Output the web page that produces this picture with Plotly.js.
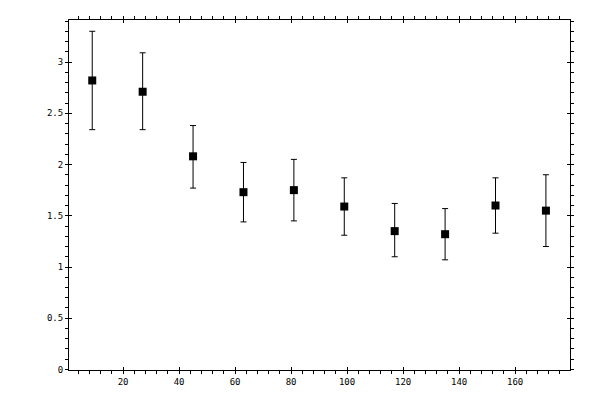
<!DOCTYPE html>
<html>
<head>
<meta charset="utf-8">
<script src="https://cdn.plot.ly/plotly-3.0.1.min.js"></script>
<style>
  html, body { margin: 0; padding: 0; background: #fff; }
  #chart { width: 600px; height: 400px; }
</style>
</head>
<body>
<div id="chart"></div>
<script>
// значения
var xVals = [9, 27, 45, 63, 81, 99, 117, 135, 153, 171];
var yVals = [2.82, 2.71, 2.08, 1.73, 1.75, 1.59, 1.35, 1.32, 1.60, 1.55];
var errUp = [0.48, 0.38, 0.30, 0.29, 0.30, 0.28, 0.27, 0.25, 0.27, 0.35];
var errDown = [0.48, 0.37, 0.31, 0.29, 0.30, 0.28, 0.25, 0.25, 0.27, 0.35];

var xRange = [0.7, 179.6];
var yRange = [-0.005, 3.41];

var tickFont = {family: 'DejaVu Sans Mono, monospace', size: 9, color: '#000'};

// точки с погрешностями
var pts = {
	x: xVals,
	y: yVals,
	type: 'scatter',
	mode: 'markers',
	marker: {symbol: 'square', size: 8, color: '#000'},
	error_y: {
		type: 'data',
		symmetric: false,
		array: errUp,
		arrayminus: errDown,
		color: '#000',
		thickness: 1,
		width: 3
	},
	hoverinfo: 'none'
};

// пустой трейс для второй пары осей (внутренние засечки)
var dummy = {x: [], y: [], xaxis: 'x2', yaxis: 'y2', type: 'scatter', mode: 'markers', hoverinfo: 'none'};

var layout = {
	width: 600,
	height: 400,
	margin: {l: 69, r: 30, t: 20, b: 30},
	paper_bgcolor: '#fff',
	plot_bgcolor: '#fff',
	showlegend: false,
	xaxis: {
		range: xRange,
		showgrid: false,
		zeroline: false,
		showline: true,
		linecolor: '#000',
		linewidth: 1,
		mirror: 'allticks',
		ticks: 'outside',
		ticklen: 3,
		tickwidth: 1,
		tickcolor: '#000',
		dtick: 20,
		tick0: 0,
		tickfont: tickFont,
		minor: {dtick: 4, tick0: 0, ticks: 'outside', ticklen: 3, tickwidth: 1, tickcolor: '#000', showgrid: false}
	},
	yaxis: {
		range: yRange,
		showgrid: false,
		zeroline: false,
		showline: true,
		linecolor: '#000',
		linewidth: 1,
		mirror: 'allticks',
		ticks: 'outside',
		ticklen: 3,
		tickwidth: 1,
		tickcolor: '#000',
		dtick: 0.5,
		tick0: 0,
		tickfont: tickFont,
		minor: {dtick: 0.1, tick0: 0, ticks: 'outside', ticklen: 3, tickwidth: 1, tickcolor: '#000', showgrid: false}
	},
	xaxis2: {
		range: xRange,
		overlaying: 'x',
		anchor: 'y2',
		showgrid: false,
		zeroline: false,
		showline: false,
		mirror: 'ticks',
		ticks: 'inside',
		ticklen: 3,
		tickwidth: 1,
		tickcolor: '#000',
		dtick: 20,
		tick0: 0,
		showticklabels: false
	},
	yaxis2: {
		range: yRange,
		overlaying: 'y',
		anchor: 'x2',
		showgrid: false,
		zeroline: false,
		showline: false,
		mirror: 'ticks',
		ticks: 'inside',
		ticklen: 3,
		tickwidth: 1,
		tickcolor: '#000',
		dtick: 0.5,
		tick0: 0,
		showticklabels: false
	}
};

Plotly.newPlot('chart', [pts, dummy], layout, {displayModeBar: false, staticPlot: true});
</script>
</body>
</html>
